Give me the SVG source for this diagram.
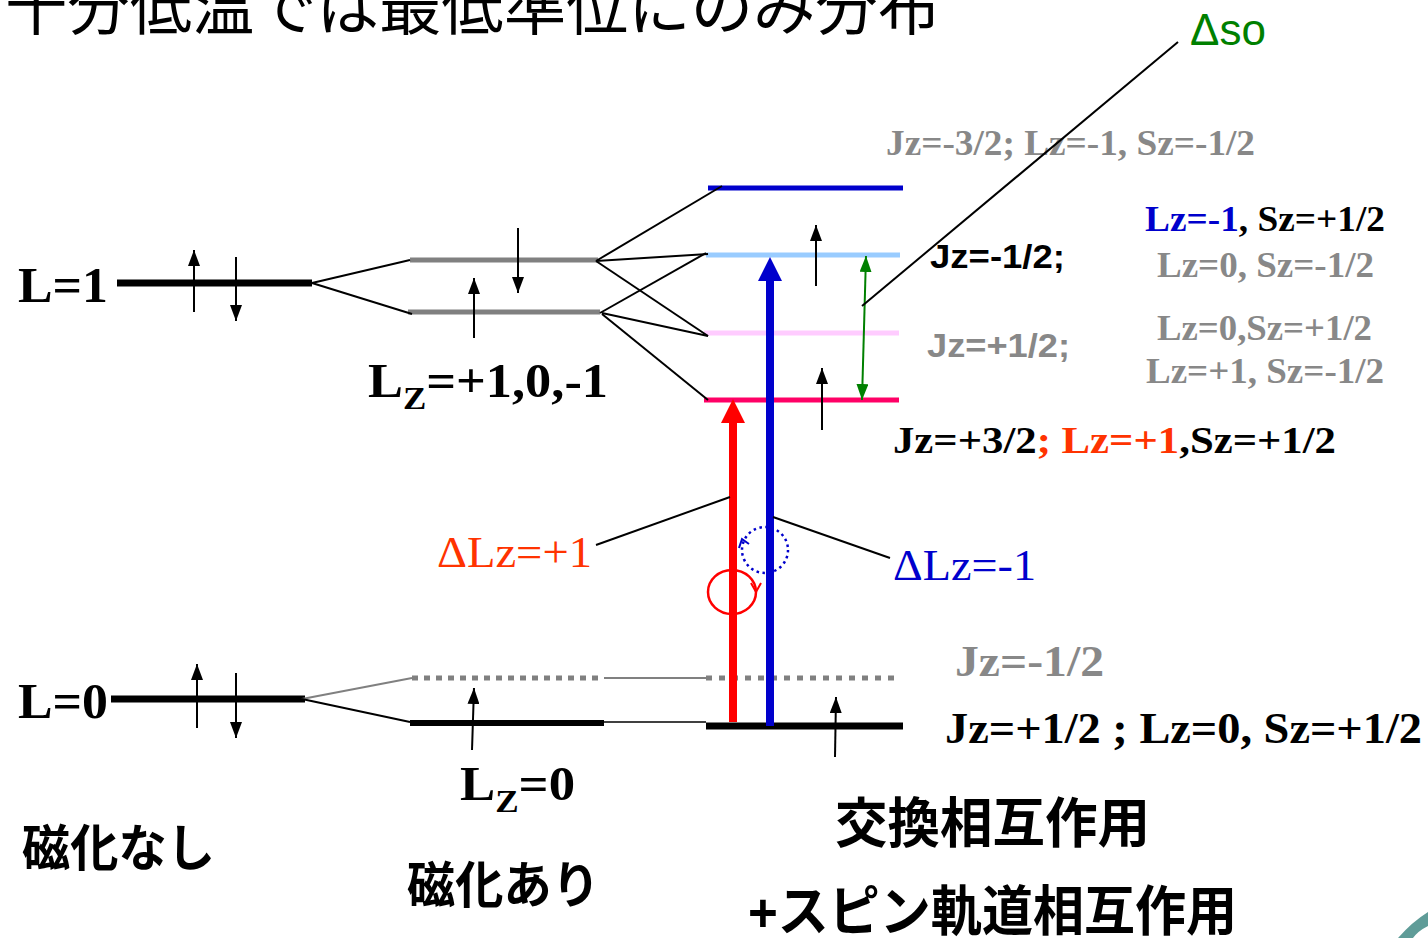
<svg xmlns="http://www.w3.org/2000/svg" width="1428" height="938" viewBox="0 0 1428 938">
<style>
.t{font-family:"Liberation Serif",serif;font-weight:bold}
.tn{font-family:"Liberation Serif",serif}
.a{font-family:"Liberation Sans",sans-serif;font-weight:bold}
.j{font-family:"Liberation Sans","Noto Sans CJK JP",sans-serif;font-weight:bold}
.g{fill:#888888}
.k{fill:#000}
.sp{stroke:#000;stroke-width:2;fill:none}
.ln{stroke:#000;stroke-width:2;fill:none}
</style>
<defs>
<marker id="ah" viewBox="0 0 16 12" markerWidth="16" markerHeight="12" refX="16" refY="6" orient="auto" markerUnits="userSpaceOnUse"><path d="M0,0 L16,6 L0,12 z" fill="#000"/></marker>
<marker id="gh" viewBox="0 0 16 12" markerWidth="16" markerHeight="12" refX="16" refY="6" orient="auto-start-reverse" markerUnits="userSpaceOnUse"><path d="M0,0 L16,6 L0,12 z" fill="#008000"/></marker>
</defs>
<rect width="1428" height="938" fill="#fff"/>

<g id="title"><text x="5" y="30" font-size="62" font-family="'Liberation Sans','Noto Sans CJK JP',sans-serif" font-weight="normal" textLength="935" lengthAdjust="spacingAndGlyphs">十分低温では最低準位にのみ分布</text></g>

<g id="level-L1">
<line x1="117" y1="283" x2="312" y2="283" stroke="#000" stroke-width="7"/>
<text class="t" x="18" y="302" font-size="50" textLength="90" lengthAdjust="spacingAndGlyphs">L=1</text>
<line class="sp" x1="194" y1="312" x2="194" y2="250" marker-end="url(#ah)"/>
<line class="sp" x1="236" y1="257" x2="236" y2="321" marker-end="url(#ah)"/>
</g>

<g id="level-Lz-upper">
<line x1="410" y1="260" x2="598" y2="260" stroke="#808080" stroke-width="5"/>
<line class="sp" x1="518" y1="228" x2="518" y2="293" marker-end="url(#ah)"/>
</g>
<g id="level-Lz-lower">
<line x1="408" y1="312" x2="600" y2="312" stroke="#808080" stroke-width="5"/>
<line class="sp" x1="474" y1="338" x2="474" y2="278" marker-end="url(#ah)"/>
</g>
<g id="label-Lz-101"><text class="t" x="368" y="397" font-size="48" textLength="240" lengthAdjust="spacingAndGlyphs">L<tspan font-size="32" dy="12">Z</tspan><tspan dy="-12">=+1,0,-1</tspan></text></g>

<g id="level-Jz-m32"><line x1="708" y1="188" x2="903" y2="188" stroke="#0000cc" stroke-width="5"/></g>
<g id="level-Jz-m12"><line x1="706" y1="255" x2="900" y2="255" stroke="#99ccff" stroke-width="5"/>
<line class="sp" x1="816" y1="286" x2="816" y2="225" marker-end="url(#ah)"/></g>
<g id="level-Jz-p12"><line x1="704" y1="333" x2="899" y2="333" stroke="#ffccff" stroke-width="5"/></g>
<g id="level-Jz-p32"><line x1="704" y1="400" x2="899" y2="400" stroke="#ff0066" stroke-width="5"/>
<line class="sp" x1="822" y1="430" x2="822" y2="368" marker-end="url(#ah)"/></g>

<g id="labels-right">
<text class="t g" x="886" y="155" font-size="36" textLength="369" lengthAdjust="spacingAndGlyphs">Jz=-3/2; Lz=-1, Sz=-1/2</text>
<text class="t" x="1145" y="231" font-size="36" textLength="240" lengthAdjust="spacingAndGlyphs"><tspan fill="#0000cc">Lz=-1</tspan><tspan fill="#000">, Sz=+1/2</tspan></text>
<text class="a k" x="930" y="268" font-size="34" textLength="135" lengthAdjust="spacingAndGlyphs">Jz=-1/2;</text>
<text class="t g" x="1157" y="277" font-size="36" textLength="217" lengthAdjust="spacingAndGlyphs">Lz=0, Sz=-1/2</text>
<text class="t g" x="1157" y="340" font-size="36" textLength="215" lengthAdjust="spacingAndGlyphs">Lz=0,Sz=+1/2</text>
<text class="a g" x="927" y="357" font-size="34" textLength="143" lengthAdjust="spacingAndGlyphs">Jz=+1/2;</text>
<text class="t g" x="1146" y="383" font-size="36" textLength="238" lengthAdjust="spacingAndGlyphs">Lz=+1, Sz=-1/2</text>
<text class="t" x="893" y="453" font-size="38" textLength="443" lengthAdjust="spacingAndGlyphs"><tspan fill="#000">Jz=+3/2</tspan><tspan fill="#ff3300">; Lz=+1</tspan><tspan fill="#000">,Sz=+1/2</tspan></text>
<text x="1190" y="45" font-size="44" font-family="'Liberation Sans',sans-serif" fill="#008000">Δso</text>
</g>

<g id="level-L0">
<line x1="111" y1="699" x2="305" y2="699" stroke="#000" stroke-width="7"/>
<text class="t" x="18" y="718" font-size="50" textLength="90" lengthAdjust="spacingAndGlyphs">L=0</text>
<line class="sp" x1="197" y1="728" x2="197" y2="664" marker-end="url(#ah)"/>
<line class="sp" x1="236" y1="673" x2="236" y2="738" marker-end="url(#ah)"/>
</g>
<g id="level-Lz0-upper"><line x1="412" y1="678" x2="604" y2="678" stroke="#808080" stroke-width="5" stroke-dasharray="6,6"/></g>
<g id="level-Lz0-lower"><line x1="410" y1="723" x2="604" y2="723" stroke="#000" stroke-width="6"/>
<line class="sp" x1="472" y1="750" x2="474" y2="688" marker-end="url(#ah)"/></g>
<g id="label-Lz0"><text class="t" x="460" y="800" font-size="48" textLength="115" lengthAdjust="spacingAndGlyphs">L<tspan font-size="32" dy="12">Z</tspan><tspan dy="-12">=0</tspan></text></g>
<g id="level-Jz0-m12"><line x1="706" y1="678" x2="900" y2="678" stroke="#808080" stroke-width="5" stroke-dasharray="6,7"/>
<text class="t g" x="955" y="676" font-size="44" textLength="149" lengthAdjust="spacingAndGlyphs">Jz=-1/2</text></g>
<g id="level-Jz0-p12"><line x1="706" y1="726" x2="903" y2="726" stroke="#000" stroke-width="7"/>
<line class="sp" x1="835" y1="757" x2="836" y2="697" marker-end="url(#ah)"/>
<text class="t k" x="945" y="743" font-size="44" textLength="477" lengthAdjust="spacingAndGlyphs">Jz=+1/2 ; Lz=0, Sz=+1/2</text></g>

<g id="connectors">
<line class="ln" x1="312" y1="283" x2="410" y2="260"/>
<line class="ln" x1="312" y1="283" x2="412" y2="314"/>
<line class="ln" x1="596" y1="261" x2="722" y2="186"/>
<line class="ln" x1="596" y1="261" x2="708" y2="254"/>
<line class="ln" x1="596" y1="261" x2="708" y2="336"/>
<line class="ln" x1="600" y1="313" x2="706" y2="253"/>
<line class="ln" x1="602" y1="313" x2="708" y2="336"/>
<line class="ln" x1="602" y1="314" x2="708" y2="400"/>
<line x1="302" y1="699" x2="412" y2="678" stroke="#808080" stroke-width="2"/>
<line class="ln" x1="302" y1="699" x2="410" y2="722"/>
<line x1="604" y1="678" x2="706" y2="678" stroke="#808080" stroke-width="2"/>
<line x1="600" y1="722" x2="706" y2="722" stroke="#000" stroke-width="1.5"/>
<line x1="866" y1="256" x2="862" y2="400" stroke="#008000" stroke-width="2" marker-start="url(#gh)" marker-end="url(#gh)"/>
<line class="ln" x1="862" y1="306" x2="1178" y2="42"/>
<line x1="733" y1="722" x2="733" y2="418" stroke="#ff0000" stroke-width="8"/>
<polygon points="733,399 721,423 745,423" fill="#ff0000"/>
<line x1="770" y1="726" x2="770" y2="276" stroke="#0000cc" stroke-width="8"/>
<polygon points="770,257 758,281 782,281" fill="#0000cc"/>
<ellipse cx="732" cy="592" rx="24" ry="22" fill="none" stroke="#ff0000" stroke-width="2.5"/>
<path d="M751,583 L756,592 L761,583" fill="none" stroke="#ff0000" stroke-width="2"/>
<circle cx="765" cy="550" r="23" fill="none" stroke="#0000cc" stroke-width="2.5" stroke-dasharray="2.5,3.5"/>
<path d="M739,548 L742,539 L749,544" fill="none" stroke="#0000cc" stroke-width="2"/>
<line class="ln" x1="596" y1="545" x2="730" y2="497"/>
<line class="ln" x1="773" y1="517" x2="890" y2="558"/>
</g>

<g id="labels-delta">
<text class="tn" x="437" y="567" font-size="44" fill="#ff3300" textLength="155" lengthAdjust="spacingAndGlyphs">ΔLz=+1</text>
<text class="tn" x="893" y="580" font-size="44" fill="#0000cc" textLength="143" lengthAdjust="spacingAndGlyphs">ΔLz=-1</text>
</g>

<g id="labels-bottom">
<text class="j" x="22" y="866" font-size="50" textLength="193" lengthAdjust="spacingAndGlyphs">磁化なし</text>
<text class="j" x="407" y="903" font-size="50" textLength="193" lengthAdjust="spacingAndGlyphs">磁化あり</text>
<text class="j" x="835" y="843" font-size="54" textLength="315" lengthAdjust="spacingAndGlyphs">交換相互作用</text>
<text class="j" x="748" y="931" font-size="54" textLength="489" lengthAdjust="spacingAndGlyphs">+スピン軌道相互作用</text>
</g>

<g id="corner"><path d="M1398,938 Q1412,922 1428,912 L1428,926 Q1418,931 1413,938 z" fill="#5f9c98"/></g>
</svg>
